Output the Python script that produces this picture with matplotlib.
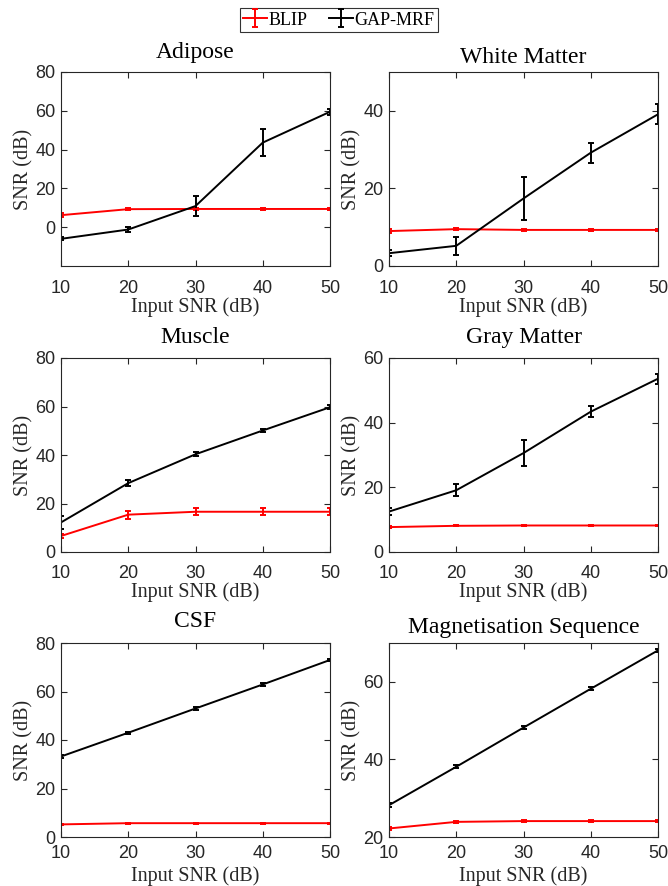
import numpy as np
import matplotlib
matplotlib.use('Agg')
from matplotlib import pyplot as plt

input_snr = [10, 20, 30, 40, 50]

titles = ['Adipose', 'White Matter', 'Muscle', 'Gray Matter', 'CSF', 'Magnetisation Sequence']

blip_mean = [
    [6.2, 9.3, 9.4, 9.4, 9.4],
    [9.0, 9.5, 9.3, 9.3, 9.3],
    [6.6, 15.4, 16.6, 16.6, 16.6],
    [7.7, 8.1, 8.2, 8.2, 8.2],
    [5.2, 5.7, 5.7, 5.7, 5.7],
    [22.2, 23.9, 24.1, 24.1, 24.1],
]
blip_err = [
    [1.0, 0.4, 0.3, 0.3, 0.3],
    [0.5, 0.3, 0.2, 0.2, 0.2],
    [1.0, 1.6, 1.4, 1.5, 1.5],
    [0.2, 0.2, 0.2, 0.2, 0.2],
    [0.2, 0.2, 0.2, 0.2, 0.2],
    [0.3, 0.2, 0.2, 0.2, 0.2],
]
gap_mean = [
    [-6.0, -1.2, 10.9, 43.6, 59.5],
    [3.3, 5.2, 17.4, 29.2, 39.1],
    [12.2, 28.4, 40.3, 50.1, 59.7],
    [12.5, 19.1, 30.6, 43.4, 53.6],
    [33.2, 43.0, 53.0, 62.9, 73.0],
    [28.2, 38.1, 48.2, 58.2, 68.1],
]
gap_err = [
    [0.8, 1.5, 5.3, 7.0, 1.5],
    [0.8, 2.4, 5.5, 2.6, 2.6],
    [2.8, 1.2, 0.8, 0.8, 0.9],
    [1.0, 1.8, 4.0, 1.8, 1.5],
    [0.6, 0.5, 0.5, 0.5, 0.6],
    [0.5, 0.4, 0.4, 0.4, 0.4],
]

ylims = [(-20, 80), (0, 50), (0, 80), (0, 60), (0, 80), (20, 70)]
yticks = [[0, 20, 40, 60, 80], [0, 20, 40], [0, 20, 40, 60, 80],
          [0, 20, 40, 60], [0, 20, 40, 60, 80], [20, 40, 60]]

# title baseline offsets above each panel (points)
title_pads = [10, 6.5, 11, 11, 11.5, 7.2]
# per-row spacing of x tick labels and x labels
xtick_pads = [10.4, 9.6, 6.0]
xlabel_pads = [-0.4, 0.2, 2.6]

W, H = 668, 886
fig = plt.figure(figsize=(W / 100, H / 100), dpi=100)

lefts = [61, 389]
width = 269
tops = [72, 358, 643]
height = 194

serif = ['Liberation Serif', 'DejaVu Serif']
sans = ['Liberation Sans', 'DejaVu Sans']
dark = '#262626'

handles = None
for i in range(6):
    r, c = divmod(i, 2)
    ax = fig.add_axes([lefts[c] / W, 1 - (tops[r] + height) / H, width / W, height / H])
    h1 = ax.errorbar(input_snr, blip_mean[i], yerr=blip_err[i], color='red', lw=1.4,
                     elinewidth=1.4, capsize=2.5, capthick=1.4)
    h2 = ax.errorbar(input_snr, gap_mean[i], yerr=gap_err[i], color='black', lw=1.4,
                     elinewidth=1.4, capsize=2.5, capthick=1.4)
    handles = [h1, h2]
    ax.set_xlim(10, 50)
    ax.set_xticks(input_snr)
    ax.set_ylim(*ylims[i])
    ax.set_yticks(yticks[i])
    ax.tick_params(direction='in', top=True, right=True, length=4, width=0.8,
                   colors=dark, labelsize=13)
    ax.tick_params(axis='x', pad=xtick_pads[r])
    ax.tick_params(axis='y', pad=4)
    for lab in ax.get_xticklabels() + ax.get_yticklabels():
        lab.set_family(sans)
    for s in ax.spines.values():
        s.set_color(dark)
        s.set_linewidth(0.8)
    ax.set_title(titles[i], family=serif, fontsize=17, pad=title_pads[i])
    ax.set_xlabel('Input SNR (dB)', family=serif, fontsize=14.5, color=dark,
                  labelpad=xlabel_pads[r])
    ax.set_ylabel('SNR (dB)', family=serif, fontsize=14.5, color=dark,
                  labelpad=1.5 if c == 0 else 1)

leg = fig.legend(handles, ['BLIP', 'GAP-MRF'], loc='upper center', ncol=2,
                 bbox_to_anchor=(339 / W, 1 - 8 / H), frameon=True, fancybox=False,
                 prop={'family': serif, 'size': 13}, handlelength=1.3,
                 handletextpad=0.1, columnspacing=1.2, borderpad=0.2,
                 borderaxespad=0)
leg.get_frame().set_edgecolor('black')
leg.get_frame().set_linewidth(0.8)

fig.savefig('out.png', dpi=100)
